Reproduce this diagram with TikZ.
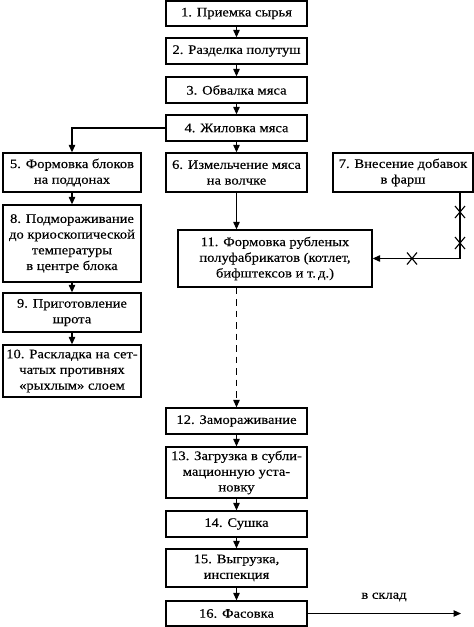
\documentclass[tikz,border=0pt]{standalone}
\usepackage{fontspec}
\setmainfont{Liberation Serif}[FakeStretch=1.12,FakeBold=0.3]
\usetikzlibrary{arrows.meta}
\begin{document}
\begin{tikzpicture}[x=1pt,y=1pt,
  box/.style={draw,line width=1.3pt,inner sep=0pt,align=center,
    font=\fontsize{13}{15.7}\selectfont},
  wide/.style={minimum width=141pt},
  lwide/.style={minimum width=138pt},
  flow/.style={line width=1.1pt,-{Triangle[length=7.5pt,width=6.5pt]}},
  xmark/.style={line width=1.1pt}]
\useasboundingbox (0,0) rectangle (474,-627);
% central column
\node[box,wide,minimum height=25pt] (b1) at (236.5,-13.5) {1. Приемка сырья};
\node[box,wide,minimum height=26pt] (b2) at (236.5,-51) {2. Разделка полутуш};
\node[box,wide,minimum height=26pt] (b3) at (236.5,-90) {3. Обвалка мяса};
\node[box,wide,minimum height=26pt] (b4) at (236.5,-128) {4. Жиловка мяса};
\node[box,wide,minimum height=39pt] (b6) at (236.5,-172.5) {6. Измельчение мяса\\на волчке};
\node[box,minimum width=140pt,minimum height=39pt] (b7) at (403,-172.5) {7. Внесение добавок\\в фарш};
\node[box,minimum width=194pt,minimum height=57pt] (b11) at (275,-258.5) {11. Формовка рубленых\\полуфабрикатов (котлет,\\бифштексов и т.\,д.)};
\node[box,wide,minimum height=26pt] (b12) at (236.5,-421) {12. Замораживание};
\node[box,wide,minimum height=51pt] (b13) at (236.5,-472.5) {13. Загрузка в субли-\\мационную уста-\\новку};
\node[box,wide,minimum height=26pt] (b14) at (236.5,-524) {14. Сушка};
\node[box,wide,minimum height=38pt] (b15) at (236.5,-568) {15. Выгрузка,\\инспекция};
\node[box,wide,minimum height=25pt] (b16) at (236.5,-613.5) {16. Фасовка};
% left column
\node[box,lwide,minimum height=39pt] (b5) at (72,-172.5) {5. Формовка блоков\\на поддонах};
\node[box,lwide,minimum height=77pt] (b8) at (72,-243.5) {8. Подмораживание\\до криоскопической\\температуры\\в центре блока};
\node[box,lwide,minimum height=39pt] (b9) at (72,-312.5) {9. Приготовление\\шрота};
\node[box,lwide,minimum height=52pt] (b10) at (72,-371) {10. Раскладка на сет-\\чатых противнях\\«рыхлым» слоем};
% connectors
\draw[flow] (b1) -- (b2);
\draw[flow] (b2) -- (b3);
\draw[flow] (b3) -- (b4);
\draw[flow] (b4) -- (b6);
\draw[flow] (b4.west) -| (b5.north);
\draw[flow] (b5) -- (b8);
\draw[flow] (b8) -- (b9);
\draw[flow] (b9) -- (b10);
\draw[flow] (b6.south) -- (b6.south |- b11.north);
\coordinate (c7) at (460,-258.5);
\draw[flow] (b7.south -| c7) -- (c7) -- (b11.east);
\draw[flow,dash pattern=on 6.5pt off 5pt] (b12.north |- b11.south) -- (b12.north);
\draw[flow] (b12) -- (b13);
\draw[flow] (b13) -- (b14);
\draw[flow] (b14) -- (b15);
\draw[flow] (b15) -- (b16);
\coordinate (out) at (461,-613.5);
\draw[flow] (b16.east) -- (out);
\node[font=\fontsize{13}{15}\selectfont,inner sep=0pt] (lbl) at (384,-597) {в склад};
% crosses
\foreach \cx/\cy in {460/-212,460/-243,412/-258.5}{
  \draw[xmark] (\cx-5,\cy-6) -- (\cx+5,\cy+6);
  \draw[xmark] (\cx-5,\cy+6) -- (\cx+5,\cy-6);
}
\end{tikzpicture}
\end{document}
